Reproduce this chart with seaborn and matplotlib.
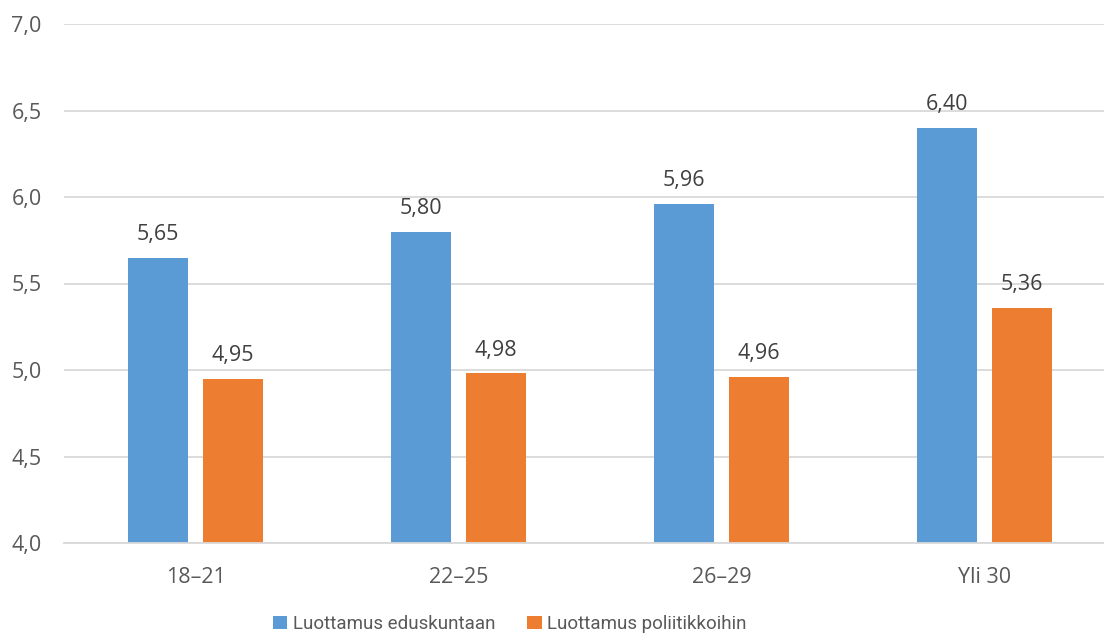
import matplotlib
matplotlib.use("Agg")
import matplotlib.pyplot as plt
import seaborn as sns
import pandas as pd
from matplotlib.patches import Patch

categories = ["18–21", "22–25", "26–29", "Yli 30"]
series_names = ["Luottamus eduskuntaan", "Luottamus poliitikkoihin"]
eduskunta = [5.65, 5.80, 5.96, 6.40]
poliitikot = [4.95, 4.98, 4.96, 5.36]
yticks = [4.0, 4.5, 5.0, 5.5, 6.0, 6.5, 7.0]

colors = ["#5B9BD5", "#ED7D31"]
text_color = "#595959"
label_color = "#404040"

sns.set_theme(style="white")
plt.rcParams['font.family'] = ['Open Sans', 'DejaVu Sans']

df = pd.DataFrame({
    "Ikä": categories * 2,
    "Sarja": [series_names[0]] * 4 + [series_names[1]] * 4,
    "Arvo": eduskunta + poliitikot,
})

W, H = 1104, 637
fig = plt.figure(figsize=(W / 100, H / 100), dpi=100)
left, right, top, bottom = 64, 1116, 24, 543
ax = fig.add_axes([left / W, 1 - bottom / H, (right - left) / W, (bottom - top) / H])

sns.barplot(data=df, x="Ikä", y="Arvo", hue="Sarja", palette=colors,
            width=0.57, gap=0.21, ax=ax, legend=False, saturation=1,
            edgecolor="none", linewidth=0, errorbar=None)

ax.set_ylim(4.0, 7.0)
ax.set_xlim(-0.5, 3.5)
ax.set_yticks(yticks)
ax.set_yticklabels([f"{v:.1f}".replace(".", ",") for v in yticks])
ax.yaxis.grid(True, color="#D9D9D9", linewidth=1.3)
ax.set_axisbelow(True)
for s in ["top", "right", "left"]:
    ax.spines[s].set_visible(False)
ax.spines["bottom"].set_color("#D9D9D9")
ax.spines["bottom"].set_linewidth(1.3)
ax.tick_params(axis="both", length=0, labelsize=15.5, colors=text_color)
ax.tick_params(axis="y", pad=16)
ax.tick_params(axis="x", pad=17)
ax.set_xlabel("")
ax.set_ylabel("")

for cont in ax.containers:
    ax.bar_label(cont, labels=[f"{v:.2f}".replace(".", ",") for v in cont.datavalues],
                 padding=9, fontsize=15.5, color=label_color)

handles = [Patch(facecolor=c, edgecolor="none") for c in colors]
fig.legend(handles, series_names, loc="center", bbox_to_anchor=(510 / W, 1 - 624 / H),
           ncol=2, frameon=False,
           prop={"family": ["Roboto", "Open Sans"], "size": 13.5},
           labelcolor=text_color,
           handlelength=0.75, handleheight=0.75, handletextpad=0.3, columnspacing=1.7)

fig.savefig("out.png", dpi=100)
